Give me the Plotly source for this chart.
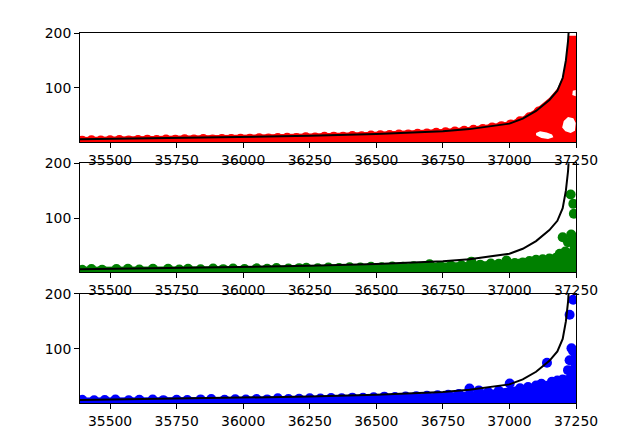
import plotly.graph_objects as go

# ---- axis settings / tick labels ----
x_ticks = [35500, 35750, 36000, 36250, 36500, 36750, 37000, 37250]
y_ticks = [100, 200]
x_lim = [35387, 37250]
y_lim = [1, 200]

# ---- fitted curve (same in all panels) ----
curve_x = [35387, 35500, 35750, 36000, 36250, 36500, 36650, 36750, 36850, 36950,
           37000, 37050, 37100, 37150, 37180, 37200, 37212, 37220, 37226, 37232]
curve_y = [6.5, 7.2, 8.8, 10.5, 12.8, 16.0, 18.5, 21.0, 25.0, 31.0,
           35.0, 44.0, 58.0, 78.0, 95.0, 118.0, 150.0, 185.0, 225.0, 270.0]

# ---- red: dense region outline (outer edge, then gaps) ----
red_mass_x = [35387, 35500, 35750, 36000, 36250, 36500, 36650, 36750, 36850, 36950,
              37000, 37050, 37100, 37150, 37180, 37200, 37212, 37220, 37222, 37250,
              37250, 35387, None,
              37100, 37120, 37145, 37165, 37160, 37140, 37115, 37100, None,
              37198, 37210, 37230, 37246, 37249, 37240, 37220, 37204, None,
              37236, 37249, 37249, 37238]
red_mass_y = [10.5, 11.2, 12.8, 14.5, 16.8, 20.0, 22.5, 25.0, 29.0, 35.0,
              39.0, 48.0, 62.0, 82.0, 99.0, 121.0, 151.0, 190.0, 195.0, 195.0,
              -5, -5, None,
              14, 9, 7, 10, 15, 19, 21, 18, None,
              28, 21, 18, 22, 36, 45, 47, 40, None,
              87, 85, 96, 95]
red_x = [35395, 35430, 35465, 35500, 35535, 35570, 35605, 35640, 35675, 35710,
         35745, 35780, 35815, 35850, 35885, 35920, 35955, 35990, 36025, 36060,
         36095, 36130, 36165, 36200, 36235, 36270, 36305, 36340, 36375, 36410,
         36445, 36480, 36515, 36550, 36585, 36620, 36655, 36690, 36725, 36760,
         36795, 36830, 36865, 36900, 36935, 36970, 37005, 37040, 37075, 37110]
red_y = [4.0, 4.8, 4.2, 4.6, 5.3, 4.5, 5.0, 5.8, 5.2, 6.0,
         5.5, 6.4, 6.0, 6.8, 6.3, 7.2, 6.9, 7.6, 7.3, 8.4,
         7.9, 8.8, 9.4, 9.0, 10.2, 9.8, 10.9, 11.3, 11.0, 12.4,
         12.1, 13.3, 13.8, 14.2, 15.1, 15.3, 16.4, 17.0, 18.2, 19.1,
         20.6, 21.8, 23.7, 25.3, 27.9, 30.4, 33.6, 39.2, 46.5, 57.0]

# ---- green ----
green_mass_x = [35387, 36000, 36250, 36500, 36700, 36850, 36950, 37000, 37100, 37150,
                37190, 37210, 37250, 37250, 35387]
green_mass_y = [11, 12, 14, 16, 18, 20, 22, 24, 28, 31,
                36, 42, 48, -5, -5]
green_x = [35395, 35430, 35470, 35524, 35567, 35610, 35661, 35718, 35760, 35793,
           35840, 35887, 35925, 35962, 36005, 36050, 36090, 36125, 36170, 36210,
           36237, 36280, 36320, 36360, 36400, 36440, 36480, 36520, 36560, 36600,
           36640, 36680, 36700, 36740, 36780, 36820, 36857, 36890, 36930, 36960,
           36989, 37020, 37050, 37075, 37100, 37125, 37150, 37175, 37189, 37200,
           37210, 37220, 37232, 37240, 37245, 37230, 37240, 37242]
green_y = [5.5, 7.0, 5.8, 7.2, 7.5, 6.0, 7.4, 7.3, 6.2, 7.6,
           6.5, 7.8, 6.8, 8.0, 7.0, 8.2, 7.4, 9.0, 7.8, 8.6,
           9.2, 8.5, 9.8, 9.0, 10.3, 9.8, 11.0, 10.4, 11.5, 11.0,
           12.0, 11.5, 15.5, 12.5, 13.5, 14.0, 20.5, 15.0, 17.0, 16.5,
           22.5, 18.0, 19.0, 21.5, 24.0, 25.0, 26.0, 27.5, 35.0, 65.0,
           39.0, 56.0, 70.0, 60.0, 47.0, 143.0, 126.0, 108.0]

# ---- blue ----
blue_mass_x = [35387, 36000, 36250, 36500, 36700, 36850, 36950, 37000, 37050, 37100,
               37150, 37190, 37215, 37228, 37232, 37250, 37250, 35387]
blue_mass_y = [11, 12, 14, 16, 19, 22, 26, 29, 33, 37,
               42, 47, 52, 55, 95, 100, -5, -5]
blue_x = [35395, 35440, 35480, 35520, 35570, 35610, 35660, 35700, 35750, 35790,
          35840, 35880, 35930, 35970, 36010, 36050, 36090, 36130, 36170, 36210,
          36250, 36290, 36330, 36370, 36410, 36450, 36490, 36530, 36570, 36610,
          36650, 36690, 36730, 36770, 36810, 36850, 36885, 36920, 36960, 37001,
          37040, 37070, 37100, 37120, 37141, 37160, 37180, 37200, 37220, 37226,
          37226, 37233, 37239, 37239]
blue_y = [7.0, 5.8, 6.4, 7.2, 6.0, 6.8, 7.4, 6.2, 7.0, 6.4,
          7.6, 8.2, 7.0, 7.8, 7.2, 8.4, 7.6, 9.8, 8.2, 8.8,
          9.6, 9.0, 10.2, 9.6, 10.8, 10.4, 11.4, 12.6, 12.0, 12.8,
          13.5, 14.2, 15.0, 16.0, 17.5, 27.5, 24.0, 21.0, 23.5, 36.5,
          28.0, 30.0, 33.0, 36.0, 74.5, 40.0, 42.0, 44.0, 61.0, 79.0,
          162.0, 101.0, 96.0, 189.5]

panels = [
    ("red", red_mass_x, red_mass_y, red_x, red_y),
    ("green", green_mass_x, green_mass_y, green_x, green_y),
    ("blue", blue_mass_x, blue_mass_y, blue_x, blue_y),
]

fig = go.Figure()
for i, (col, mx, my, px, py) in enumerate(panels):
    xa = "x" if i == 0 else f"x{i+1}"
    ya = "y" if i == 0 else f"y{i+1}"
    fig.add_trace(go.Scatter(x=mx, y=my, mode="lines", fill="toself",
                             fillcolor=col, line=dict(width=0, color=col),
                             xaxis=xa, yaxis=ya, hoverinfo="skip"))
    fig.add_trace(go.Scatter(x=px, y=py, mode="markers",
                             marker=dict(size=10, color=col, line=dict(width=0)),
                             xaxis=xa, yaxis=ya))
    fig.add_trace(go.Scatter(x=curve_x, y=curve_y, mode="lines",
                             line=dict(color="black", width=2),
                             xaxis=xa, yaxis=ya))

# plot area on screen: x 80..576 px, y 33..403 px (page body adds 8 px offset)
ydomains = [[0.7046, 1.0], [0.3532, 0.6478], [0.0, 0.2946]]
font = dict(family="DejaVu Sans", size=13.9, color="black")
layout = dict(width=640, height=448, margin=dict(l=72, r=72, t=25, b=53),
              paper_bgcolor="white", plot_bgcolor="white", showlegend=False)
for i in range(3):
    sx = "" if i == 0 else str(i + 1)
    common = dict(showline=True, mirror=True, linecolor="black", linewidth=1,
                  ticks="outside", ticklen=5, tickwidth=1, tickcolor="black",
                  showgrid=False, zeroline=False, tickfont=font, automargin=False)
    layout["xaxis" + sx] = dict(domain=[0.0, 1.0], anchor="y" + sx, range=x_lim,
                                tickvals=x_ticks, ticktext=[str(v) for v in x_ticks],
                                **common)
    layout["yaxis" + sx] = dict(domain=ydomains[i], anchor="x" + sx, range=y_lim,
                                tickvals=y_ticks, ticktext=[str(v) for v in y_ticks],
                                **common)
fig.update_layout(**layout)
fig.write_html("out.html")
